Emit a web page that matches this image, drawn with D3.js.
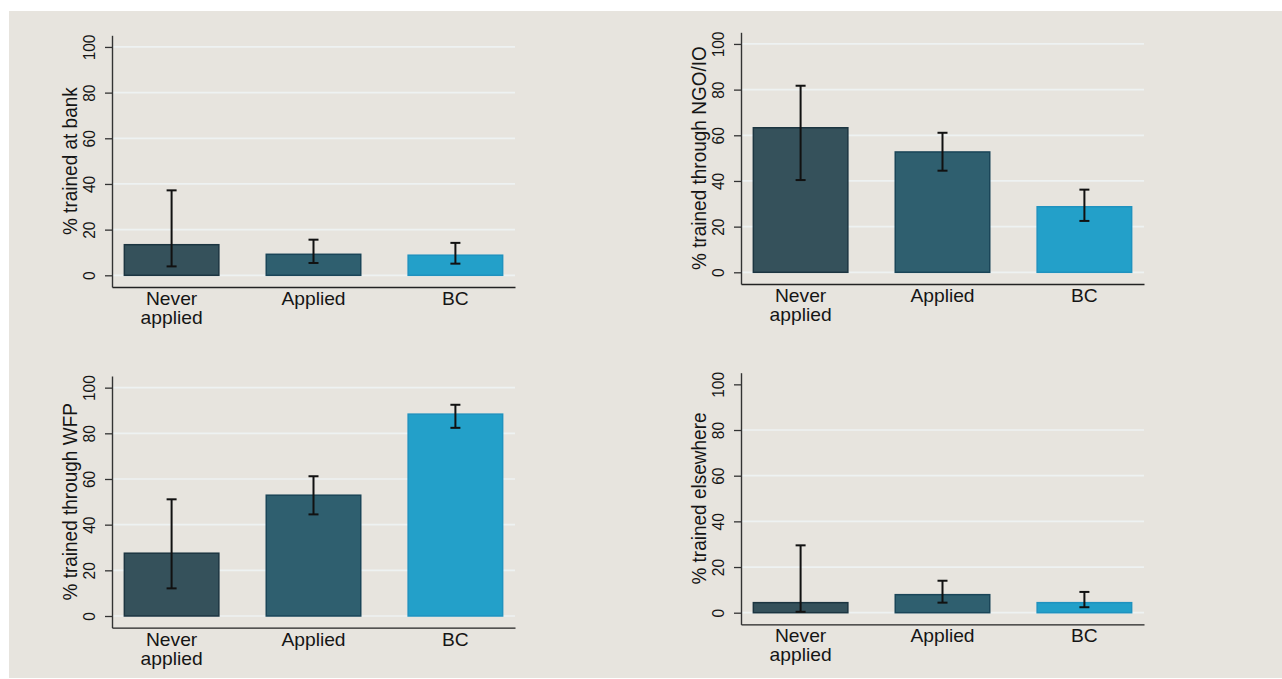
<!DOCTYPE html>
<html>
<head>
<meta charset="utf-8">
<script src="https://cdn.jsdelivr.net/npm/d3@7"></script>
<style>
  html, body { margin: 0; padding: 0; background: #ffffff; }
  svg { display: block; }
  text { font-family: "Liberation Sans", Arial, Helvetica, sans-serif; fill: #151515; }
</style>
</head>
<body>
<svg id="chart" width="1282" height="679"></svg>
<script>
// Groups compared in every panel
const categories = ["Never applied", "Applied", "BC"];
const categoryLines = [["Never", "applied"], ["Applied"], ["BC"]];
const yTicks = [0, 20, 40, 60, 80, 100];

// Share trained at a bank (%), with 95% confidence bounds
const bankMean = [13.4, 9.2, 8.8];
const bankLow  = [3.9, 5.4, 5.1];
const bankHigh = [37.2, 15.6, 14.2];

// Share trained through an NGO / international organisation (%)
const ngoMean = [63.3, 52.7, 28.7];
const ngoLow  = [40.4, 44.5, 22.5];
const ngoHigh = [81.7, 61.1, 36.2];

// Share trained through WFP (%)
const wfpMean = [27.5, 52.9, 88.4];
const wfpLow  = [12.1, 44.5, 82.4];
const wfpHigh = [51.1, 61.2, 92.5];

// Share trained elsewhere (%)
const elseMean = [4.4, 7.9, 4.4];
const elseLow  = [0.4, 4.4, 2.4];
const elseHigh = [29.5, 14.0, 9.1];

const yTitles = ["% trained at bank", "% trained through NGO/IO",
                 "% trained through WFP", "% trained elsewhere"];

const panelData = [
  { title: yTitles[0], mean: bankMean, low: bankLow, high: bankHigh },
  { title: yTitles[1], mean: ngoMean,  low: ngoLow,  high: ngoHigh },
  { title: yTitles[2], mean: wfpMean,  low: wfpLow,  high: wfpHigh },
  { title: yTitles[3], mean: elseMean, low: elseLow, high: elseHigh }
];

// Placement of each panel: left = y-axis position, zero = pixel row of 0%
const layout = [
  { left: 112, zero: 275.3, topGrid: true },
  { left: 741, zero: 272.3, topGrid: true },
  { left: 112, zero: 616.0, topGrid: true },
  { left: 741, zero: 612.7, topGrid: false }
];
const plotWidth = 403;
const stretch = 1.1;   // glyphs are set slightly wide

const fills   = ["#35515b", "#2f5f6f", "#23a0c9"];
const strokes = ["#1c3541", "#1a4558", "#1f92bf"];

const svg = d3.select("#chart");

// Page background panel
svg.append("rect")
  .attr("x", 9).attr("y", 11)
  .attr("width", 1282 - 9).attr("height", 678 - 11)
  .attr("fill", "#e7e4de");

panelData.forEach((p, i) => {
  const L = layout[i];
  const g = svg.append("g");

  const y = d3.scaleLinear()
    .domain([-5.1, 105.1])
    .range([L.zero + 11.65, L.zero - 240]);

  const x = d3.scaleBand()
    .domain(categories)
    .range([L.left, L.left + plotWidth])
    .paddingInner(0.334)
    .paddingOuter(0.087);

  // horizontal grid lines
  const gridTicks = L.topGrid ? yTicks : yTicks.filter(t => t !== 100);
  g.append("g").selectAll("line")
    .data(gridTicks)
    .join("line")
    .attr("x1", L.left).attr("x2", L.left + plotWidth)
    .attr("y1", d => y(d)).attr("y2", d => y(d))
    .attr("stroke", "#eef2f2")
    .attr("stroke-width", 1.7);

  // bars
  g.append("g").selectAll("rect")
    .data(categories)
    .join("rect")
    .attr("x", d => x(d))
    .attr("width", x.bandwidth())
    .attr("y", (d, j) => y(p.mean[j]))
    .attr("height", (d, j) => y(0) - y(p.mean[j]))
    .attr("fill", (d, j) => fills[j])
    .attr("stroke", (d, j) => strokes[j])
    .attr("stroke-width", 1.5);

  // confidence intervals
  const ci = g.append("g")
    .attr("stroke", "#111")
    .attr("stroke-width", 2)
    .attr("fill", "none");
  categories.forEach((c, j) => {
    const cx = x(c) + x.bandwidth() / 2;
    ci.append("line")
      .attr("x1", cx).attr("x2", cx)
      .attr("y1", y(p.low[j])).attr("y2", y(p.high[j]));
    [p.low[j], p.high[j]].forEach(v => {
      ci.append("line")
        .attr("x1", cx - 5).attr("x2", cx + 5)
        .attr("y1", y(v)).attr("y2", y(v));
    });
  });

  // y axis
  const yAxis = g.append("g")
    .attr("transform", `translate(${L.left},0)`)
    .call(d3.axisLeft(y).tickValues(yTicks).tickSize(7).tickSizeOuter(0));
  yAxis.select(".domain").attr("stroke", "#333").attr("stroke-width", 1.4);
  yAxis.selectAll(".tick line").attr("stroke", "#333").attr("stroke-width", 1.3);
  yAxis.selectAll(".tick text")
    .attr("transform", `translate(-17,0) scale(${stretch},1) rotate(-90)`)
    .attr("x", 0).attr("y", 0).attr("dy", 0)
    .attr("text-anchor", "middle")
    .style("font-size", "15.5px")
    .style("font-family", "'Liberation Sans', Arial, Helvetica, sans-serif")
    .attr("fill", "#151515");

  // y axis title
  g.append("text")
    .attr("transform", `translate(${L.left - 35},${y(50)}) scale(${stretch},1) rotate(-90)`)
    .attr("text-anchor", "middle")
    .style("font-size", "19px")
    .text(p.title);

  // x axis with group labels
  const xAxis = g.append("g")
    .attr("transform", `translate(0,${y(-5.1)})`)
    .call(d3.axisBottom(x).tickSize(0).tickSizeOuter(0));
  xAxis.select(".domain").attr("stroke", "#222").attr("stroke-width", 1.4);
  xAxis.selectAll(".tick text").each(function (d) {
    const t = d3.select(this)
      .text(null)
      .attr("y", 0).attr("dy", 0)
      .attr("transform", `scale(${stretch},1)`)
      .attr("text-anchor", "middle")
      .style("font-size", "17.5px")
      .style("font-family", "'Liberation Sans', Arial, Helvetica, sans-serif")
      .attr("fill", "#151515");
    categoryLines[categories.indexOf(d)].forEach((line, k) => {
      t.append("tspan").attr("x", 0).attr("y", 18 + k * 19).text(line);
    });
  });
});
</script>
</body>
</html>
